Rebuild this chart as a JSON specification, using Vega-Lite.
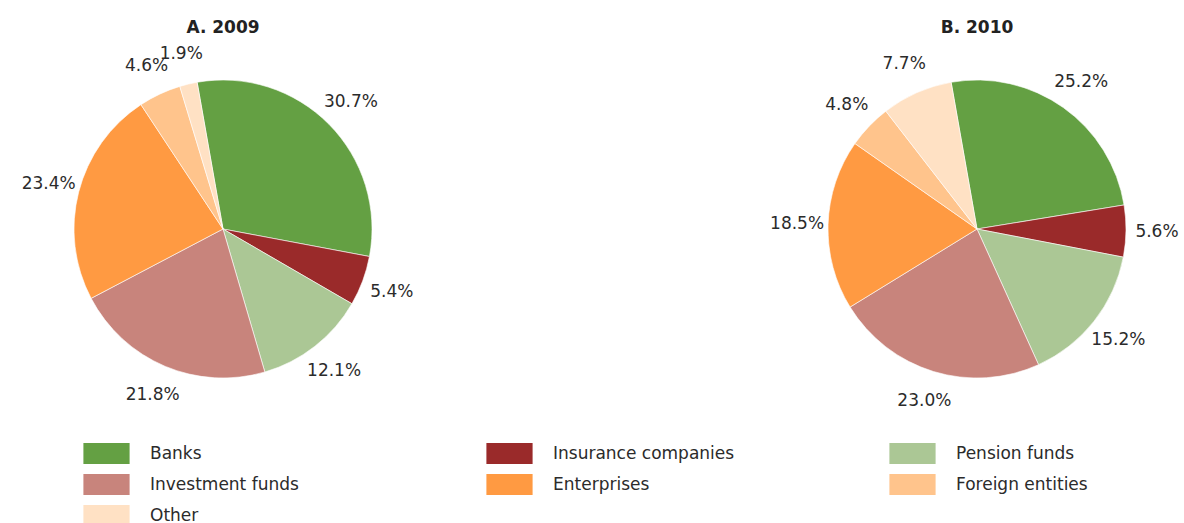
{
  "$schema": "https://vega.github.io/schema/vega-lite/v6.json",
  "padding": {"left": 0, "top": 19, "right": 0, "bottom": 0},
  "background": "white",
  "data": {
    "values": [
      {"panel": "A. 2009", "sector": "Banks", "share": 30.7, "rank": 1},
      {"panel": "A. 2009", "sector": "Insurance companies", "share": 5.4, "rank": 2},
      {"panel": "A. 2009", "sector": "Pension funds", "share": 12.1, "rank": 3},
      {"panel": "A. 2009", "sector": "Investment funds", "share": 21.8, "rank": 4},
      {"panel": "A. 2009", "sector": "Enterprises", "share": 23.4, "rank": 5},
      {"panel": "A. 2009", "sector": "Foreign entities", "share": 4.6, "rank": 6},
      {"panel": "A. 2009", "sector": "Other", "share": 1.9, "rank": 7},
      {"panel": "B. 2010", "sector": "Banks", "share": 25.2, "rank": 1},
      {"panel": "B. 2010", "sector": "Insurance companies", "share": 5.6, "rank": 2},
      {"panel": "B. 2010", "sector": "Pension funds", "share": 15.2, "rank": 3},
      {"panel": "B. 2010", "sector": "Investment funds", "share": 23.0, "rank": 4},
      {"panel": "B. 2010", "sector": "Enterprises", "share": 18.5, "rank": 5},
      {"panel": "B. 2010", "sector": "Foreign entities", "share": 4.8, "rank": 6},
      {"panel": "B. 2010", "sector": "Other", "share": 7.7, "rank": 7}
    ]
  },
  "transform": [{"calculate": "format(datum.share, '.1f') + '%'", "as": "label"}],
  "facet": {
    "column": {
      "field": "panel", "type": "nominal", "title": null,
      "header": {"labelFontSize": 17, "labelFont": "DejaVu Sans", "labelFontWeight": "bold", "labelColor": "#222222", "labelPadding": 7, "labelOrient": "top"}
    }
  },
  "spacing": 308,
  "resolve": {"scale": {"theta": "independent"}},
  "spec": {
    "width": 446,
    "height": 300,
    "encoding": {
      "theta": {"field": "share", "type": "quantitative", "stack": true, "scale": {"range": [-0.1745, 6.1087]}},
      "order": {"field": "rank", "type": "ordinal"}
    },
    "layer": [
      {
        "mark": {"type": "arc", "outerRadius": 149, "stroke": "white", "strokeWidth": 0.6},
        "encoding": {
          "color": {
            "field": "sector", "type": "nominal",
            "sort": ["Banks", "Insurance companies", "Pension funds", "Investment funds", "Enterprises", "Foreign entities", "Other"],
            "scale": {
              "domain": ["Banks", "Insurance companies", "Pension funds", "Investment funds", "Enterprises", "Foreign entities", "Other"],
              "range": ["#64a043", "#9a2a2a", "#abc795", "#c8847c", "#ff9a42", "#ffc48c", "#ffe1c4"]
            },
            "legend": {
              "title": null, "orient": "none", "legendX": 96, "legendY": 364,
              "direction": "horizontal", "columns": 3,
              "symbolType": "M-2.2,-1H2.2V1H-2.2Z", "symbolSize": 441, "symbolStrokeWidth": 0, "symbolOpacity": 1,
              "labelFont": "DejaVu Sans", "labelFontSize": 17, "labelColor": "#2b2b2b", "labelOffset": 33, "labelLimit": 300,
              "columnPadding": 154, "rowPadding": 10, "gridAlign": "all"
            }
          }
        }
      },
      {
        "mark": {"type": "text", "radius": 180, "font": "DejaVu Sans", "fontSize": 17, "color": "#2b2b2b"},
        "encoding": {
          "detail": {"field": "sector", "type": "nominal"},
          "text": {"field": "label", "type": "nominal"}
        }
      }
    ]
  },
  "config": {"view": {"stroke": null}}
}
